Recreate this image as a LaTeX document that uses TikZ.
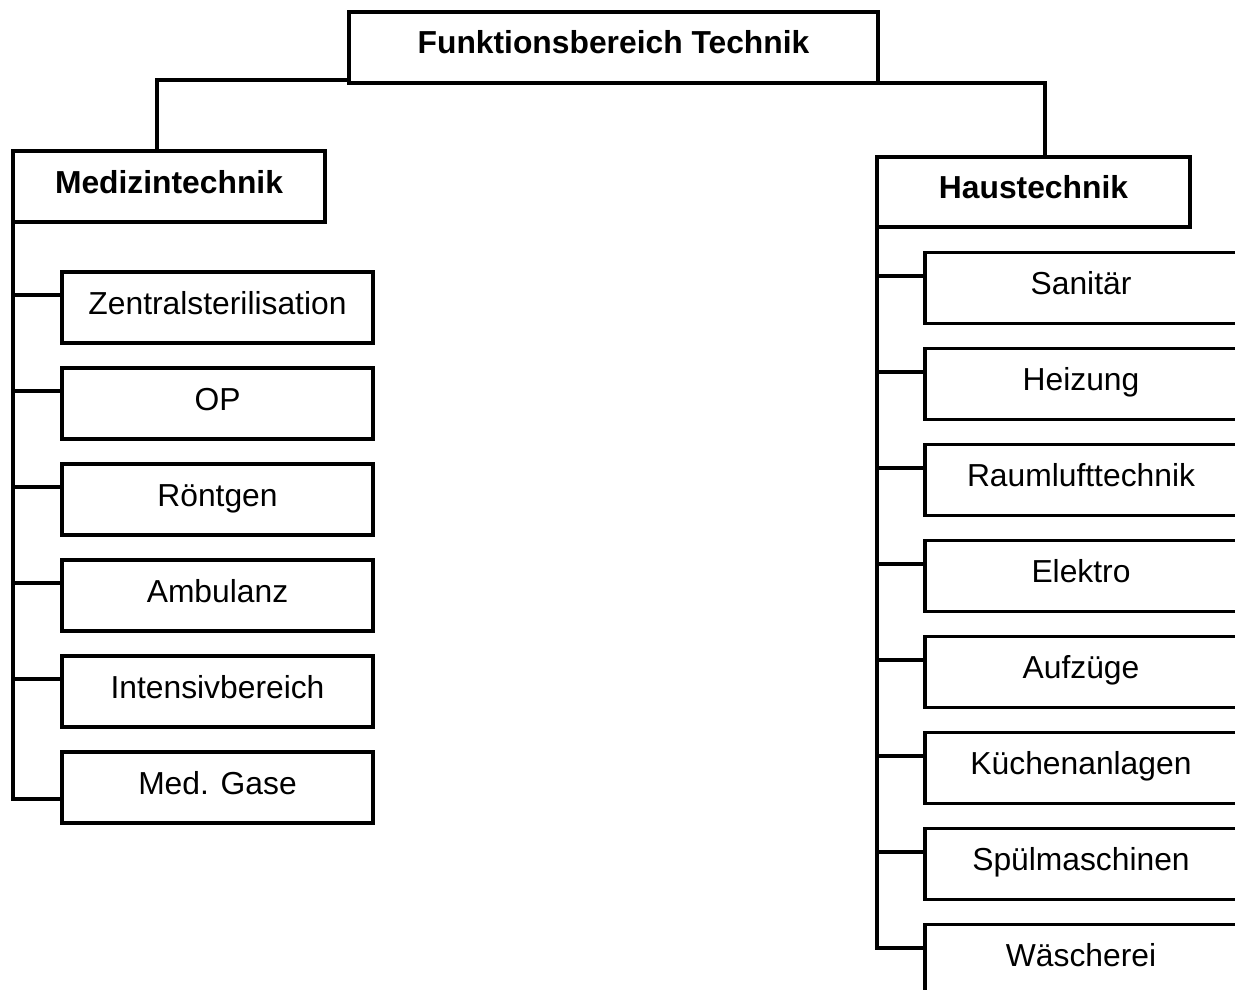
\documentclass[tikz,border=0pt]{standalone}
\usepackage{fontspec}
\setmainfont{Liberation Sans}
\begin{document}
\begin{tikzpicture}[x=1pt,y=1pt,
  every node/.style={inner sep=0pt, outer sep=0pt},
  unit/.style={draw, line width=3.6pt, anchor=north west, align=center,
    minimum width=311pt, minimum height=71pt,
    text height=22pt, text depth=9pt,
    font=\fontsize{31.8}{38}\selectfont},
  head/.style={unit, font=\fontsize{31.8}{38}\selectfont\bfseries},
  root/.style={head, line width=4.4pt, minimum width=529pt},
  link/.style={line width=3.6pt, line join=miter}]
\clip (0,0) rectangle (1235,-990);

% top level
\node[root] (top) at (349,-12) {Funktionsbereich Technik};

% two departments
\node[head, minimum width=312pt] (med) at (13,-151) {Medizintechnik};
\node[head, minimum width=313pt, minimum height=70pt] (haus) at (877,-157) {Haustechnik};

% Medizintechnik units
\node[unit] (zs)  at (62,-272) {Zentralsterilisation};
\node[unit] (op)  at (62,-368) {OP};
\node[unit] (rt)  at (62,-464) {Röntgen};
\node[unit] (amb) at (62,-560) {Ambulanz};
\node[unit] (int) at (62,-656) {Intensivbereich};
\node[unit] (gas) at (62,-752) {Med. Gase};

% Haustechnik units
\node[unit, minimum width=312pt] (san) at (925,-252.5) {Sanitär};
\node[unit, minimum width=312pt] (hei) at (925,-348.5) {Heizung};
\node[unit, minimum width=312pt] (rlt) at (925,-444.5) {Raumlufttechnik};
\node[unit, minimum width=312pt] (ele) at (925,-540.5) {Elektro};
\node[unit, minimum width=312pt] (auf) at (925,-636.5) {Aufzüge};
\node[unit, minimum width=312pt] (kue) at (925,-732.5) {Küchenanlagen};
\node[unit, minimum width=312pt] (spu) at (925,-828.5) {Spülmaschinen};
\node[unit, minimum width=312pt] (wae) at (925,-924.5) {Wäscherei};

% root to departments
\draw[link] ([yshift=3pt]top.south west) -| ([xshift=144pt]med.north west);
\draw[link] (top.south east) -| ([xshift=168pt]haus.north west);

% Medizintechnik trunk and branches
\draw[link] (med.south west) |- ([yshift=-11.5pt]gas.west);
\foreach \n in {zs,op,rt,amb,int}
  \draw[link] ([yshift=12.5pt]\n.west) -- ([yshift=12.5pt]\n.west -| med.west);

% Haustechnik trunk and branches
\draw[link] (haus.south west) |- ([yshift=12pt]wae.west);
\foreach \n in {san,hei,rlt,ele,auf,kue,spu}
  \draw[link] ([yshift=12pt]\n.west) -- ([yshift=12pt]\n.west -| haus.west);
\end{tikzpicture}
\end{document}
